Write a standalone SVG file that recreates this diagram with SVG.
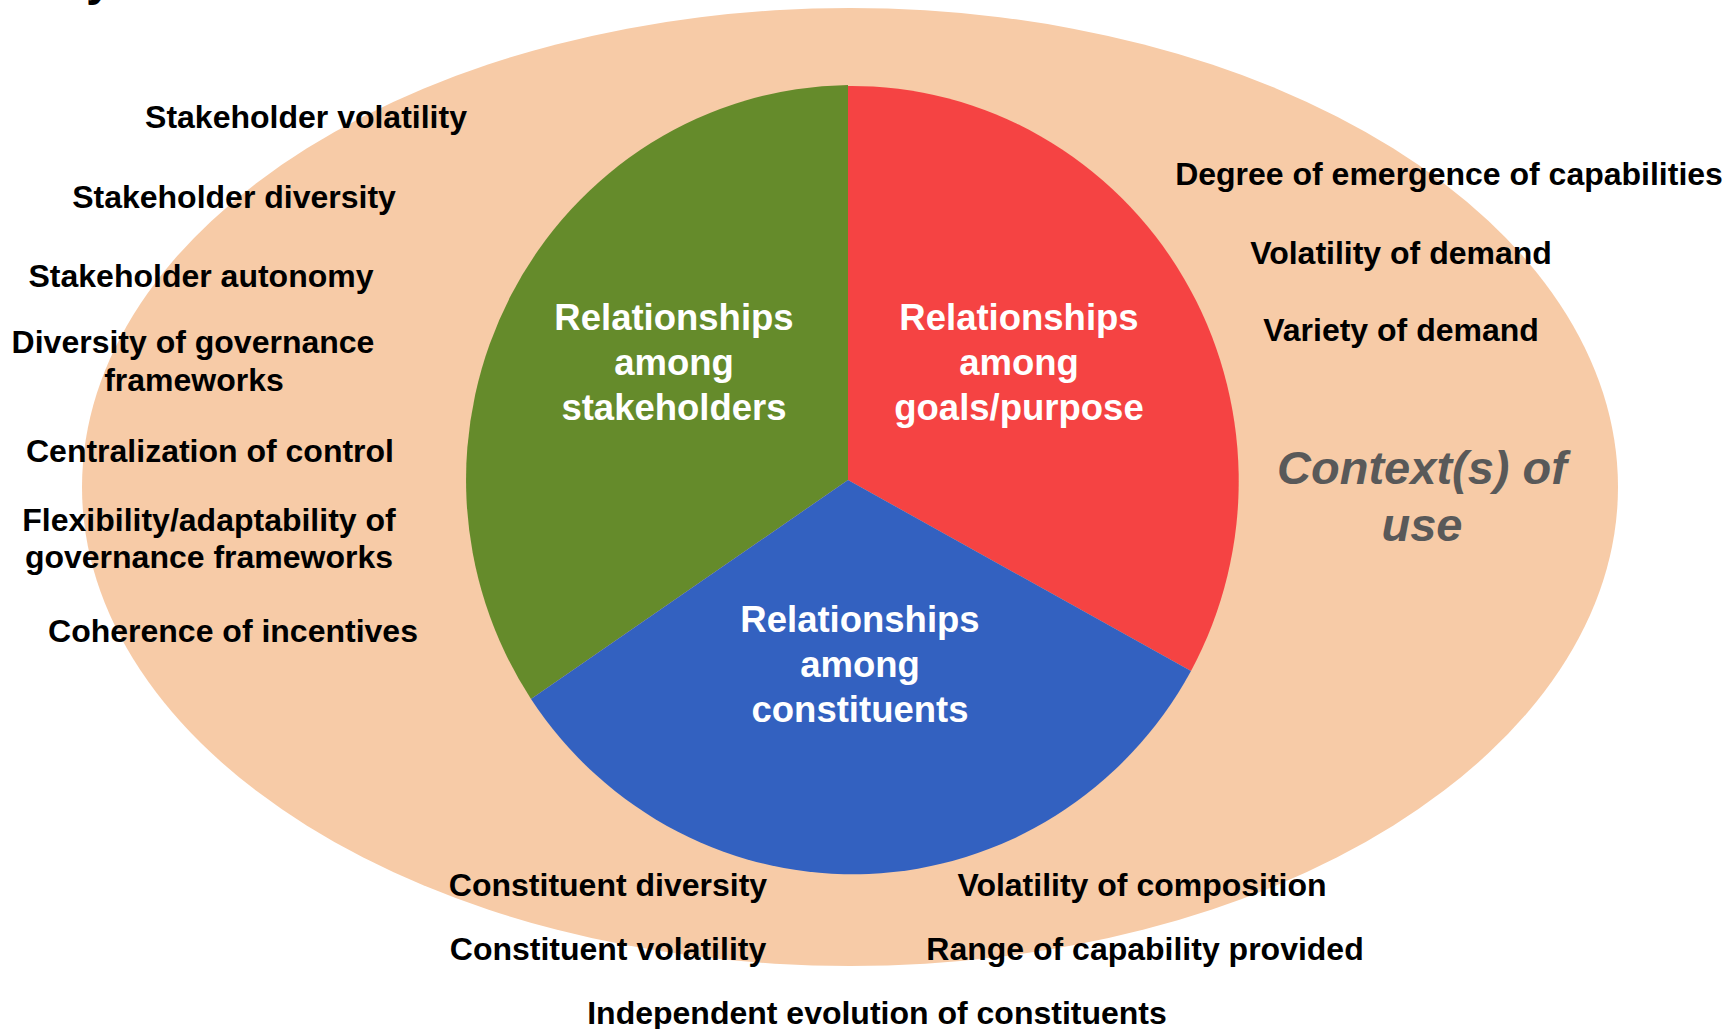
<svg xmlns="http://www.w3.org/2000/svg" width="1735" height="1029" viewBox="0 0 1735 1029">
<style>
text{font-family:"Liberation Sans",Arial,Helvetica,sans-serif;font-weight:bold}
.lbl{font-size:32px;fill:#000;text-anchor:middle}
.seg{font-size:36.5px;fill:#fff;text-anchor:middle}
.ctx{font-size:47px;fill:#595959;font-style:italic;text-anchor:middle}
</style>
<rect width="1735" height="1029" fill="#fff"/>
<text x="86" y="-5" style="font-size:48px;fill:#000">y</text>
<g id="context">
<ellipse cx="850" cy="487" rx="768" ry="479" fill="#F7CBA7"/>
<text class="ctx" x="1422" y="484">Context(s) of</text>
<text class="ctx" x="1422" y="541">use</text>
</g>
<g id="stakeholders">
<path d="M848,480 L531,699 A387,395 0 0 1 848,85 Z" fill="#658B2B"/>
<text class="seg" x="674" y="330">Relationships</text>
<text class="seg" x="674" y="375">among</text>
<text class="seg" x="674" y="420">stakeholders</text>
</g>
<g id="goals">
<path d="M848,480 L848,86 A387,395 0 0 1 1191,671 Z" fill="#F54343"/>
<text class="seg" x="1019" y="330">Relationships</text>
<text class="seg" x="1019" y="375">among</text>
<text class="seg" x="1019" y="420">goals/purpose</text>
</g>
<g id="constituents">
<path d="M848,480 L1191,671 A387,395 0 0 1 531,699 Z" fill="#3361C0"/>
<text class="seg" x="860" y="632">Relationships</text>
<text class="seg" x="860" y="677">among</text>
<text class="seg" x="860" y="722">constituents</text>
</g>
<g id="stakeholder-factors">
<text class="lbl" x="306" y="128">Stakeholder volatility</text>
<text class="lbl" x="234" y="208">Stakeholder diversity</text>
<text class="lbl" x="201" y="287">Stakeholder autonomy</text>
<text class="lbl" x="193" y="353">Diversity of governance</text>
<text class="lbl" x="194" y="391">frameworks</text>
<text class="lbl" x="210" y="462">Centralization of control</text>
<text class="lbl" x="209" y="531">Flexibility/adaptability of</text>
<text class="lbl" x="209" y="568">governance frameworks</text>
<text class="lbl" x="233" y="642">Coherence of incentives</text>
</g>
<g id="goal-factors">
<text class="lbl" x="1449" y="185">Degree of emergence of capabilities</text>
<text class="lbl" x="1401" y="264">Volatility of demand</text>
<text class="lbl" x="1401" y="341">Variety of demand</text>
</g>
<g id="constituent-factors">
<text class="lbl" x="608" y="896">Constituent diversity</text>
<text class="lbl" x="1142" y="896">Volatility of composition</text>
<text class="lbl" x="608" y="960">Constituent volatility</text>
<text class="lbl" x="1145" y="960">Range of capability provided</text>
<text class="lbl" x="877" y="1024">Independent evolution of constituents</text>
</g>
</svg>
